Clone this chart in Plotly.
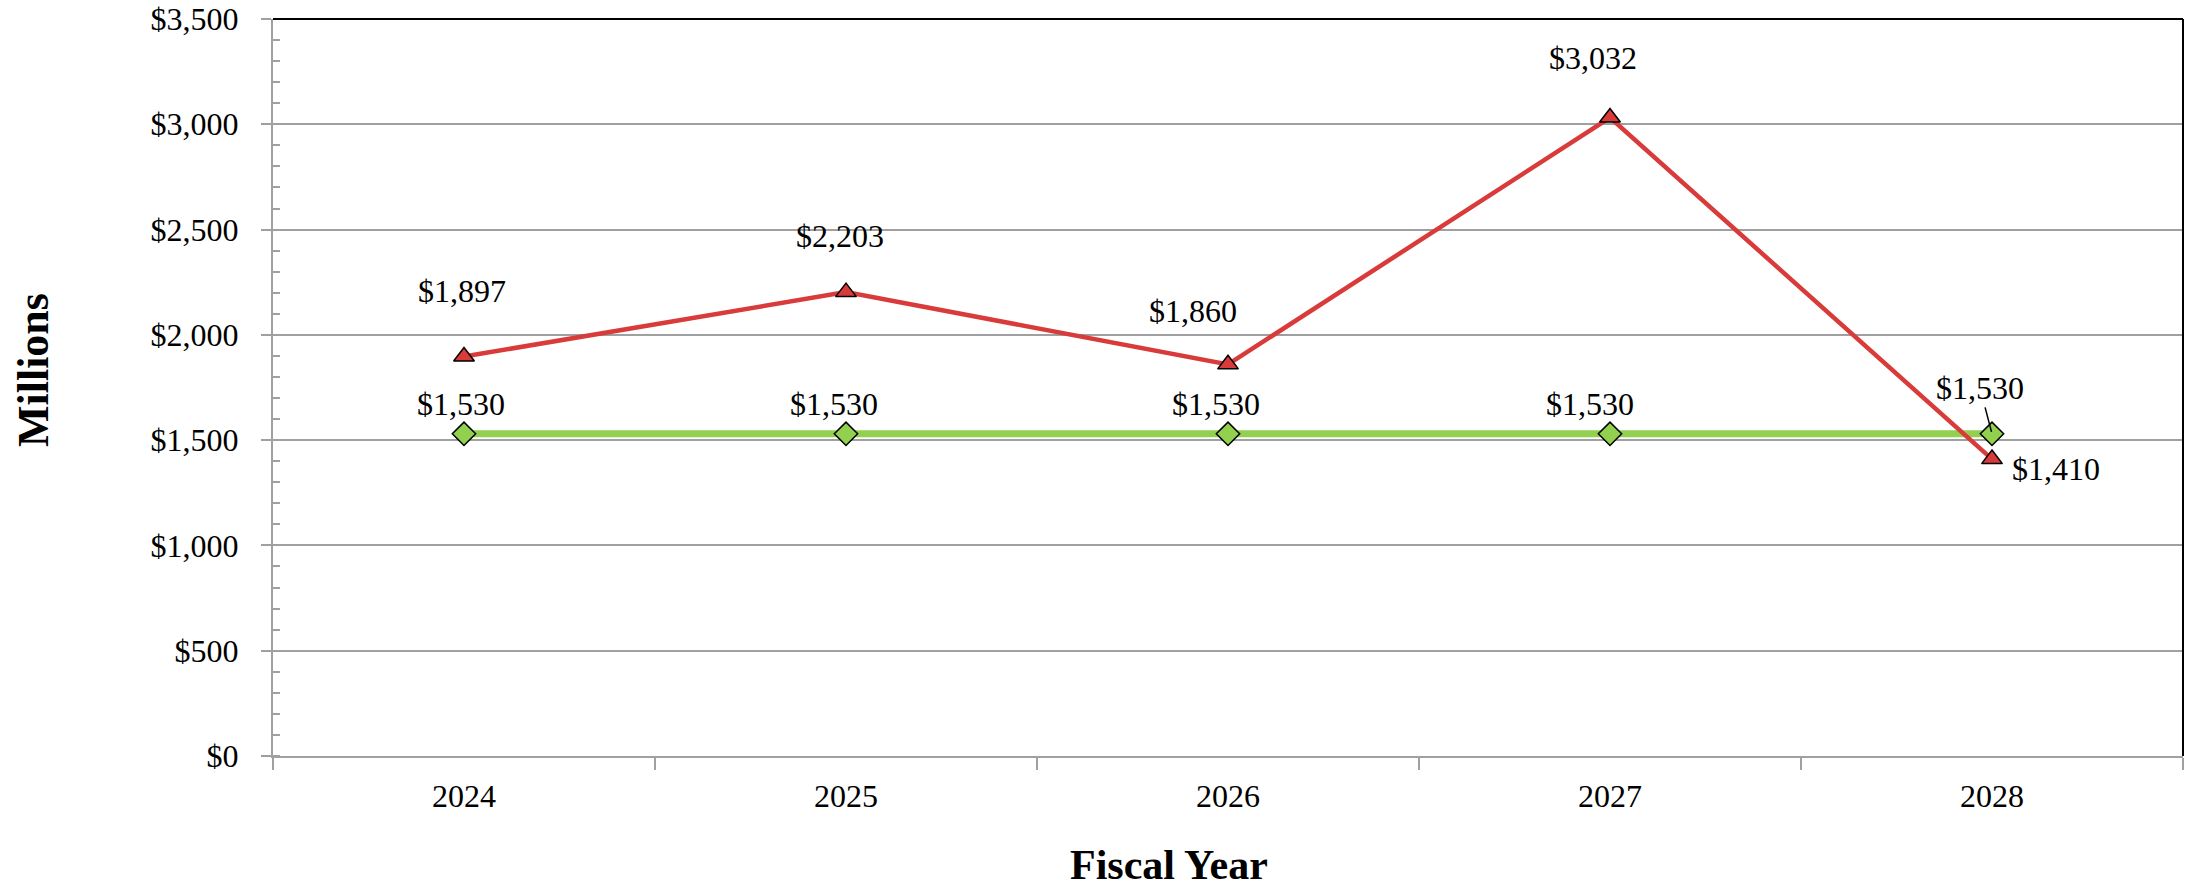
import plotly.graph_objects as go

years = ["2024", "2025", "2026", "2027", "2028"]
red_values = [1897, 2203, 1860, 3032, 1410]
green_values = [1530, 1530, 1530, 1530, 1530]
y_tick_values = [0, 500, 1000, 1500, 2000, 2500, 3000, 3500]
y_tick_labels = ["$0", "$500", "$1,000", "$1,500", "$2,000", "$2,500", "$3,000", "$3,500"]

# label placement offsets in pixels (x, y) relative to each point
red_label_shift = [(-2, 66), (-6, 56), (-35, 53), (-17, 60), (64, -10)]
green_label_shift = [(-3, 30), (-12, 30), (-12, 30), (-20, 30)]

RED = "#D93A3A"
GREEN = "#92D050"
GRID = "#A0A0A0"
FONT = "Liberation Serif"
LABEL_SIZE = 32


def money(v):
    return f"${v:,.0f}"


fig = go.Figure()

fig.add_trace(go.Scatter(
    x=years,
    y=green_values,
    mode="lines+markers",
    line=dict(color=GREEN, width=7),
    marker=dict(symbol="diamond", size=18, color=GREEN,
                line=dict(color="black", width=1.5)),
    showlegend=False,
))

fig.add_trace(go.Scatter(
    x=years,
    y=red_values,
    mode="lines+markers",
    line=dict(color=RED, width=4.5),
    marker=dict(symbol="triangle-up", size=18, color=RED,
                line=dict(color="black", width=1.5)),
    showlegend=False,
))

# data labels (x given as category index)
label_font = dict(family=FONT, size=LABEL_SIZE, color="black")
for i, v in enumerate(red_values):
    dx, dy = red_label_shift[i]
    fig.add_annotation(x=i, y=v, text=money(v), showarrow=False,
                       xshift=dx, yshift=dy, font=label_font)

last = len(years) - 1
for i, v in enumerate(green_values):
    if i == last:
        # last label pulled up-left with a leader line
        fig.add_annotation(x=i, y=v, text=money(v), showarrow=True,
                           arrowhead=0, arrowwidth=1.5, arrowcolor="black",
                           ax=-12, ay=-46, standoff=2, font=label_font)
    else:
        dx, dy = green_label_shift[i]
        fig.add_annotation(x=i, y=v, text=money(v), showarrow=False,
                           xshift=dx, yshift=dy, font=label_font)

# axis titles
fig.add_annotation(x=0.469, y=-0.148, xref="paper", yref="paper",
                   text="<b>Fiscal Year</b>", showarrow=False,
                   xanchor="center", yanchor="middle",
                   font=dict(family=FONT, size=42, color="black"))
fig.add_annotation(x=-0.125, y=0.524, xref="paper", yref="paper",
                   text="<b>Millions</b>", showarrow=False, textangle=-90,
                   xanchor="center", yanchor="middle",
                   font=dict(family=FONT, size=44, color="black"))

# top and right border
fig.add_shape(type="line", xref="paper", yref="paper", x0=0, x1=1, y0=1, y1=1,
              line=dict(color="black", width=2))
fig.add_shape(type="line", xref="paper", yref="paper", x0=1, x1=1, y0=0, y1=1,
              line=dict(color="black", width=2))

fig.update_xaxes(
    type="category",
    automargin=False,
    showgrid=False,
    showline=True,
    linecolor=GRID,
    linewidth=2,
    ticks="outside",
    tickson="boundaries",
    ticklen=12,
    tickcolor=GRID,
    tickwidth=2,
    ticklabelstandoff=11,
    tickfont=dict(family=FONT, size=LABEL_SIZE, color="black"),
    range=[-0.5, 4.5],
)

fig.update_yaxes(
    range=[0, 3500],
    automargin=False,
    tickvals=y_tick_values,
    ticktext=y_tick_labels,
    showgrid=True,
    gridcolor=GRID,
    gridwidth=2,
    showline=True,
    linecolor=GRID,
    linewidth=2,
    ticks="outside",
    ticklen=10,
    tickcolor=GRID,
    tickwidth=2,
    ticklabelstandoff=16,
    ticklabeloverflow="allow",
    tickfont=dict(family=FONT, size=LABEL_SIZE, color="black"),
    zeroline=False,
    minor=dict(ticks="inside", dtick=100, ticklen=7, tickcolor=GRID,
               tickwidth=2, showgrid=False),
)

fig.update_layout(
    width=2187,
    height=893,
    margin=dict(l=273, r=4, t=19, b=137),
    plot_bgcolor="white",
    paper_bgcolor="white",
    font=dict(family=FONT, color="black"),
)

# drop the default 8px page margin so the figure fills the window exactly
fig.write_html("out.html", config={"displayModeBar": False},
               post_script="document.body.style.margin = '0';")
